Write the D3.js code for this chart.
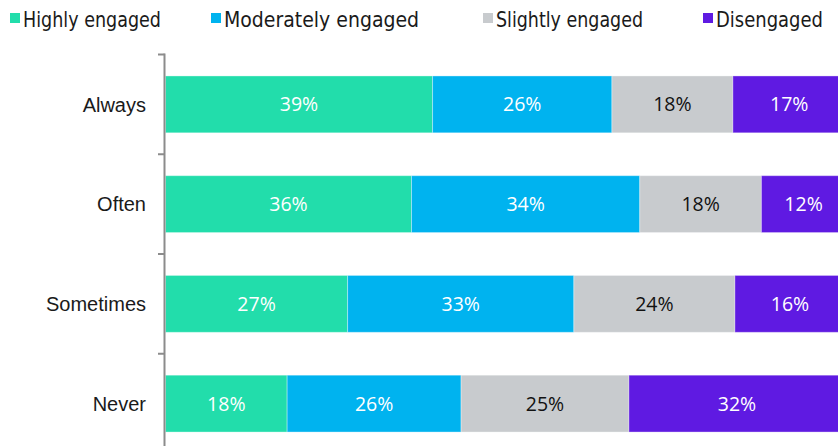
<!DOCTYPE html>
<html><head><meta charset="utf-8">
<script src="https://cdn.jsdelivr.net/npm/d3@7"></script>
<style>
html,body{margin:0;padding:0;background:#fff;overflow:hidden;}
</style></head>
<body>
<svg id="chart" width="838" height="446"></svg>
<script>
const categories = ["Always", "Often", "Sometimes", "Never"];
const seriesNames = ["Highly engaged", "Moderately engaged", "Slightly engaged", "Disengaged"];
const highlyEngaged = [39.3, 36.2, 26.8, 17.9];
const moderatelyEngaged = [26.4, 33.6, 33.3, 25.6];
const slightlyEngaged = [17.8, 17.9, 23.7, 24.7];
const disengaged = [16.6, 12.4, 16.2, 31.8];
const colors = ["#22ddab", "#00b3ef", "#c8cbce", "#5f1ae2"];
const labelColors = ["#ffffff", "#ffffff", "#111111", "#ffffff"];

const rows = categories.map((c, i) => ({
  cat: c,
  "Highly engaged": highlyEngaged[i],
  "Moderately engaged": moderatelyEngaged[i],
  "Slightly engaged": slightlyEngaged[i],
  "Disengaged": disengaged[i]
}));

const svg = d3.select("#chart");
const x = d3.scaleLinear().domain([0, 100]).range([165.5, 845]);
const y = d3.scaleBand().domain(categories).range([56, 452]).paddingInner(0.43).paddingOuter(0.2);
const stack = d3.stack().keys(seriesNames)(rows);

// bars
const layers = svg.append("g").selectAll("g").data(stack).join("g")
  .attr("fill", (d, i) => colors[i]);
layers.selectAll("rect").data(d => d).join("rect")
  .attr("x", d => x(d[0]))
  .attr("y", d => y(d.data.cat))
  .attr("width", d => x(d[1]) - x(d[0]))
  .attr("height", y.bandwidth())
  .attr("stroke", "rgba(255,255,255,0.35)")
  .attr("stroke-width", 1);

// labels
layers.each(function(s, i) {
  d3.select(this).selectAll("text").data(s).join("text")
    .attr("x", d => (x(d[0]) + x(d[1])) / 2)
    .attr("y", d => y(d.data.cat) + y.bandwidth() / 2)
    .attr("dy", "0.36em")
    .attr("text-anchor", "middle")
    .attr("fill", labelColors[i])
    .style("font-family", "'Open Sans', 'Noto Sans', sans-serif")
    .style("font-weight", 400)
    .style("font-size", "19.5px")
    .text(d => Math.round(d[1] - d[0]) + "%");
});

// y axis
const step = y.step();
const half = step * y.paddingInner() / 2;
const boundaries = categories.map(c => y(c) - half).concat([y(categories[3]) + y.bandwidth() + half]);
const ax = svg.append("g");
ax.append("line")
  .attr("x1", 164.5).attr("x2", 164.5)
  .attr("y1", boundaries[0] - 1).attr("y2", 446)
  .attr("stroke", "#8c8c8c").attr("stroke-width", 2);
ax.selectAll("line.tick").data(boundaries).join("line")
  .attr("class", "tick")
  .attr("x1", 158).attr("x2", 164.5)
  .attr("y1", d => d).attr("y2", d => d)
  .attr("stroke", "#8c8c8c").attr("stroke-width", 2);
ax.selectAll("text").data(categories).join("text")
  .attr("x", 146)
  .attr("y", d => y(d) + y.bandwidth() / 2)
  .attr("dy", "0.36em")
  .attr("text-anchor", "end")
  .attr("fill", "#1a1a1a")
  .style("font-family", "'Liberation Sans', Arial, sans-serif")
  .style("font-size", "20px")
  .text(d => d);

// legend
const legendX = [10, 211, 483, 703];
const lg = svg.append("g").selectAll("g").data(seriesNames).join("g")
  .attr("transform", (d, i) => `translate(${legendX[i]},0)`);
lg.append("rect").attr("x", 0).attr("y", 13).attr("width", 10).attr("height", 10)
  .attr("fill", (d, i) => colors[i]);
lg.append("text").attr("x", 13).attr("y", 27)
  .attr("fill", "#1a1a1a")
  .style("font-family", "'DejaVu Sans Condensed', 'DejaVu Sans', sans-serif")
  .style("font-stretch", "condensed")
  .style("font-size", "21px")
  .text(d => d)
  .each(function(d, i) {
    const target = [138, 197, 147, 107][i];
    const w = this.getComputedTextLength();
    if (Math.abs(w - target) > 2) {
      d3.select(this).attr("textLength", target).attr("lengthAdjust", "spacingAndGlyphs");
    }
  });
</script>
</body></html>
